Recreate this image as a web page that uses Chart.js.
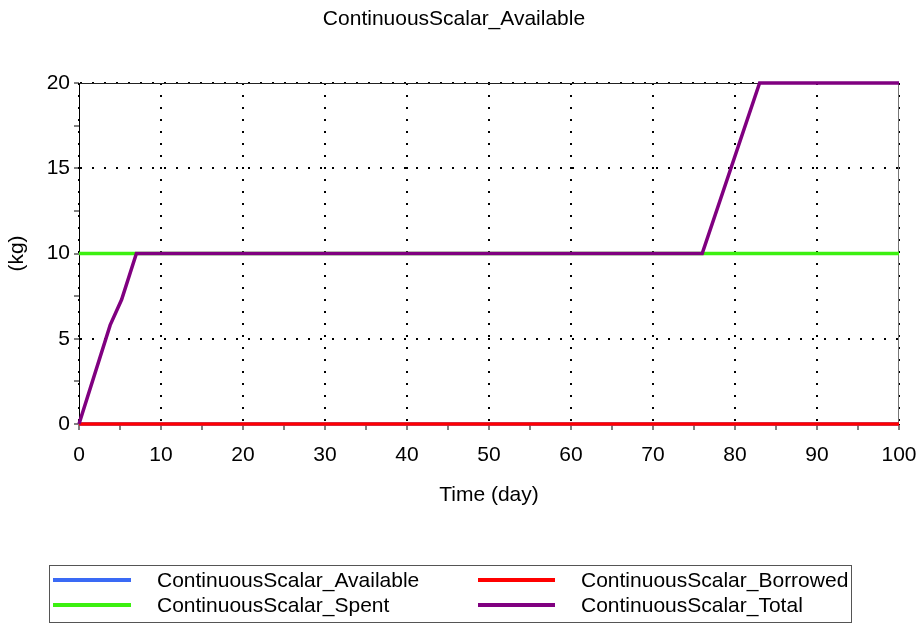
<!DOCTYPE html>
<html>
<head>
<meta charset="utf-8">
<script src="https://cdn.jsdelivr.net/npm/chart.js@4/dist/chart.umd.min.js"></script>
<style>
html,body{margin:0;padding:0;background:#fff;}
#wrap{width:920px;height:623px;position:relative;}
</style>
</head>
<body>
<div id="wrap"><canvas id="c" width="920" height="623"></canvas></div>
<script>
// ---- data ----
const chartTitle = 'ContinuousScalar_Available';
const xAxisTitle = 'Time (day)';
const yAxisTitle = '(kg)';
const seriesNames = ['ContinuousScalar_Available', 'ContinuousScalar_Spent', 'ContinuousScalar_Borrowed', 'ContinuousScalar_Total'];
const seriesColors = ['#3a6af5', '#3cf010', '#ff0000', '#800080'];
const availableDays = [0, 100];
const availableValues = [0, 0];
const spentDays = [0, 100];
const spentValues = [10, 10];
const borrowedDays = [0, 100];
const borrowedValues = [0, 0];
const totalDays = [0, 3.8, 5.2, 7, 76, 83, 100];
const totalValues = [0, 5.8, 7.3, 10, 10, 20, 20];
const xMin = 0, xMax = 100, xMinorStep = 5, xLabelStep = 10;
const yMin = 0, yMax = 20, yMinorStep = 2.5, yLabelStep = 5;

const FONT = '"Liberation Sans", Arial, sans-serif';
const FS = 21;

function pts(xs, ys) { return xs.map((x, i) => ({x: x, y: ys[i]})); }
const seriesData = [pts(availableDays, availableValues), pts(spentDays, spentValues), pts(borrowedDays, borrowedValues), pts(totalDays, totalValues)];
const drawOrder = [3, 2, 1, 0]; // Total on top

const datasets = seriesNames.map((n, i) => ({
  label: n,
  data: seriesData[i],
  borderColor: seriesColors[i],
  backgroundColor: seriesColors[i],
  borderWidth: 3.5,
  pointRadius: 0,
  tension: 0,
  fill: false,
  clip: 6,
  order: drawOrder[i]
}));

const framePlugin = {
  id: 'frame',
  beforeDatasetsDraw(chart) {
    const ctx = chart.ctx;
    const a = chart.chartArea;
    ctx.save();
    ctx.strokeStyle = '#222';
    ctx.lineWidth = 1;
    ctx.beginPath(); ctx.moveTo(a.left, a.top + 0.5); ctx.lineTo(a.right, a.top + 0.5); ctx.stroke();
    ctx.strokeStyle = '#777';
    ctx.beginPath(); ctx.moveTo(a.right - 0.5, a.top); ctx.lineTo(a.right - 0.5, a.bottom); ctx.stroke();
    ctx.restore();
  },
  afterDraw(chart) {
    const ctx = chart.ctx;
    const a = chart.chartArea;
    ctx.save();
    ctx.fillStyle = '#000';
    ctx.font = FS + 'px ' + FONT;
    ctx.textAlign = 'center';
    ctx.textBaseline = 'middle';
    ctx.fillText(chartTitle, 454, 19);
    ctx.fillText(xAxisTitle, (a.left + a.right) / 2, 495);
    ctx.save();
    ctx.translate(17, (a.top + a.bottom) / 2);
    ctx.rotate(-Math.PI / 2);
    ctx.fillText(yAxisTitle, 0, 0);
    ctx.restore();
    // legend
    const lx = 49, ly = 565, lw = 802, lh = 57;
    ctx.strokeStyle = '#555';
    ctx.lineWidth = 1;
    ctx.strokeRect(lx + 0.5, ly + 0.5, lw, lh);
    const cols = [{lineX: 53, lineW: 78, textX: 157}, {lineX: 478, lineW: 77, textX: 581}];
    const rows = [580, 605];
    ctx.textAlign = 'left';
    chart.data.datasets.forEach((ds, i) => {
      const c = cols[Math.floor(i / 2)];
      const y = rows[i % 2];
      ctx.strokeStyle = ds.borderColor;
      ctx.lineWidth = 4;
      ctx.beginPath(); ctx.moveTo(c.lineX, y); ctx.lineTo(c.lineX + c.lineW, y); ctx.stroke();
      ctx.fillStyle = '#000';
      ctx.fillText(ds.label, c.textX, y + 1);
    });
    ctx.restore();
  }
};

function gridColor(step) {
  return (c) => (c.tick && Math.abs(c.tick.value / step - Math.round(c.tick.value / step)) < 1e-9) ? '#000' : 'rgba(0,0,0,0)';
}
function labelCb(step) {
  return (v) => (Math.abs(v / step - Math.round(v / step)) < 1e-9) ? String(v) : '';
}

new Chart(document.getElementById('c'), {
  type: 'line',
  data: { datasets: datasets },
  options: {
    responsive: false,
    animation: false,
    events: [],
    layout: { padding: { top: 83, right: 21, bottom: 0, left: 0 } },
    plugins: { legend: { display: false }, title: { display: false }, tooltip: { enabled: false } },
    scales: {
      x: {
        type: 'linear', min: xMin, max: xMax,
        afterFit(s) { s.height = 199; s.paddingLeft = 0; s.paddingRight = 0; },
        ticks: { stepSize: xMinorStep, autoSkip: false, maxRotation: 0, callback: labelCb(xLabelStep), color: '#000', font: { family: FONT, size: FS }, padding: 13 },
        grid: { color: gridColor(xLabelStep), lineWidth: 2, tickColor: '#000', tickWidth: 1, tickLength: 6, tickBorderDash: [], drawTicks: true },
        border: { display: true, color: '#000', width: 1, dash: [2, 10] }
      },
      y: {
        type: 'linear', min: yMin, max: yMax,
        afterFit(s) { s.width = 79; s.paddingTop = 0; s.paddingBottom = 0; },
        ticks: { stepSize: yMinorStep, autoSkip: false, callback: labelCb(yLabelStep), color: '#000', font: { family: FONT, size: FS }, padding: 4 },
        grid: { color: gridColor(yLabelStep), lineWidth: 2, tickColor: '#000', tickWidth: 1, tickLength: 5, tickBorderDash: [], drawTicks: true },
        border: { display: true, color: '#000', width: 1, dash: [2, 10] }
      }
    }
  },
  plugins: [framePlugin]
});
</script>
</body>
</html>
